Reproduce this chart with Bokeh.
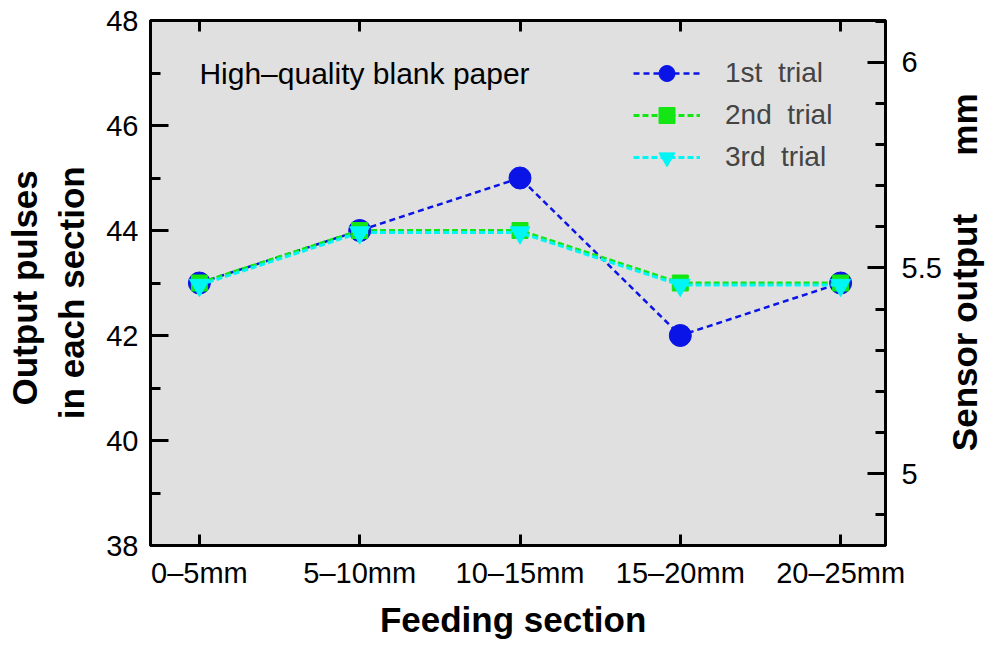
import math
from bokeh.plotting import figure
from bokeh.layouts import row
from bokeh.core.properties import value
from bokeh.models import (Range1d, LinearAxis, FixedTicker, NumeralTickFormatter,
                          Label, Legend, LegendItem)
from bokeh.embed import file_html
from bokeh.resources import INLINE

categories = ["0–5mm", "5–10mm", "10–15mm", "15–20mm", "20–25mm"]
trial1 = [43, 44, 45, 42, 43]
trial2 = [43, 44, 44, 43, 43]
trial3 = [42.96, 43.96, 43.96, 42.96, 42.96]
series_names = ["1st  trial", "2nd  trial", "3rd  trial"]
left_ticks = [38, 40, 42, 44, 46, 48]
left_minor = [39, 41, 43, 45, 47]
right_ticks = [5, 5.5, 6]
right_minor = [4.9, 5.1, 5.2, 5.3, 5.4, 5.6, 5.7, 5.8, 5.9, 6.1]
note_text = "High–quality  blank  paper"
x_title = "Feeding  section"
left_title = "Output  pulses\nin  each  section"
right_titles = ["Sensor  output", "mm"]

xs = list(range(len(categories)))
FONT = "Liberation Sans"
W, H = 989, 646
SIDE_W = 45

p = figure(width=W - SIDE_W, height=H, output_backend="svg", toolbar_location=None,
           x_range=Range1d(-0.305, 4.28), y_range=Range1d(38, 48),
           min_border_left=150, min_border_right=58, min_border_top=20,
           min_border_bottom=101)
p.background_fill_color = "#e0e0e0"
p.border_fill_color = "white"
p.outline_line_color = "black"
p.outline_line_width = 3
p.xgrid.visible = False
p.ygrid.visible = False

p.extra_y_ranges = {"mm": Range1d(4.825, 6.102)}

# bottom axis
xa = p.xaxis[0]
xa.ticker = FixedTicker(ticks=xs)
xa.major_label_overrides = {i: c for i, c in enumerate(categories)}
xa.axis_label = x_title

# left axis
ya = p.yaxis[0]
ya.ticker = FixedTicker(ticks=left_ticks, minor_ticks=left_minor)
ya.axis_label = left_title

# right axis
ra = LinearAxis(y_range_name="mm", ticker=FixedTicker(ticks=right_ticks, minor_ticks=right_minor),
                formatter=NumeralTickFormatter(format="0.[0]"))
p.add_layout(ra, "right")

# top axis (ticks only)
ta = LinearAxis(ticker=FixedTicker(ticks=xs), major_label_overrides={i: "" for i in xs},
                major_label_text_font_size="1px", major_label_standoff=0)
p.add_layout(ta, "above")

for ax in [xa, ya, ra, ta]:
    ax.axis_line_width = 3
    ax.major_tick_line_width = 3
    ax.minor_tick_line_width = 3
    ax.major_tick_out = 0
    ax.minor_tick_out = 0
    ax.major_label_text_font = FONT
    ax.major_label_text_color = "black"
    ax.axis_label_text_font = FONT
    ax.axis_label_text_font_style = "bold"
    ax.axis_label_text_color = "black"
    ax.axis_label_text_font_size = "35px"

xa.major_tick_in = 11
ta.major_tick_in = 11
xa.minor_tick_line_color = None
ta.minor_tick_line_color = None
ya.major_tick_in = 18
ya.minor_tick_in = 10
ra.major_tick_in = 18
ra.minor_tick_in = 10

xa.major_label_text_font_size = "29px"
ya.major_label_text_font_size = "29px"
ra.major_label_text_font_size = "29px"
xa.major_label_standoff = 11
ya.major_label_standoff = 12
ra.major_label_standoff = 16
xa.axis_label_standoff = 8
ya.axis_label_standoff = 12

# series
BLUE, GREEN, CYAN = "#0a14e6", "#14e614", "#00f5f5"
l1 = p.line(xs, trial1, line_color=BLUE, line_width=2.5, line_dash="6 4")
m1 = p.scatter(xs, trial1, marker="circle", size=22, fill_color=BLUE, line_color=BLUE)
l2 = p.line(xs, trial2, line_color=GREEN, line_width=3, line_dash="6 3")
m2 = p.scatter(xs, trial2, marker="square", size=16, fill_color=GREEN, line_color=GREEN)
l3 = p.line(xs, trial3, line_color=CYAN, line_width=3, line_dash="6 3")
m3 = p.scatter(xs, trial3, marker="inverted_triangle", size=20, fill_color=CYAN, line_color=CYAN)

legend = Legend(items=[LegendItem(label=series_names[0], renderers=[l1, m1]),
                       LegendItem(label=series_names[1], renderers=[l2, m2]),
                       LegendItem(label=series_names[2], renderers=[l3, m3])],
                location=(483, 368), padding=0, margin=0, spacing=2,
                glyph_width=67, glyph_height=40, label_standoff=25,
                label_text_font=FONT, label_text_font_size="28px",
                background_fill_alpha=0, border_line_color=None)
p.add_layout(legend)

p.add_layout(Label(x=0, y=47, text=note_text, text_font=FONT, text_font_size="30px",
                   text_baseline="middle", text_align="left", text_color="black"))

# side strip holding the right-hand axis title, reading bottom to top
side = figure(width=SIDE_W, height=H, output_backend="svg", toolbar_location=None,
              x_range=Range1d(0, SIDE_W), y_range=Range1d(0, H),
              x_axis_location=None, y_axis_location=None, min_border=0)
side.outline_line_color = None
side.xgrid.visible = False
side.ygrid.visible = False
side.background_fill_color = "white"
side.border_fill_color = "white"
side.text(x=[20, 20], y=[268, H - 128], text=right_titles, angle=math.pi / 2,
          text_font=value(FONT), text_font_size="35px", text_font_style="bold",
          text_align="center", text_baseline="middle", text_color="black")

layout = row(p, side, spacing=0)
open("out.html", "w").write(file_html(layout, INLINE))
